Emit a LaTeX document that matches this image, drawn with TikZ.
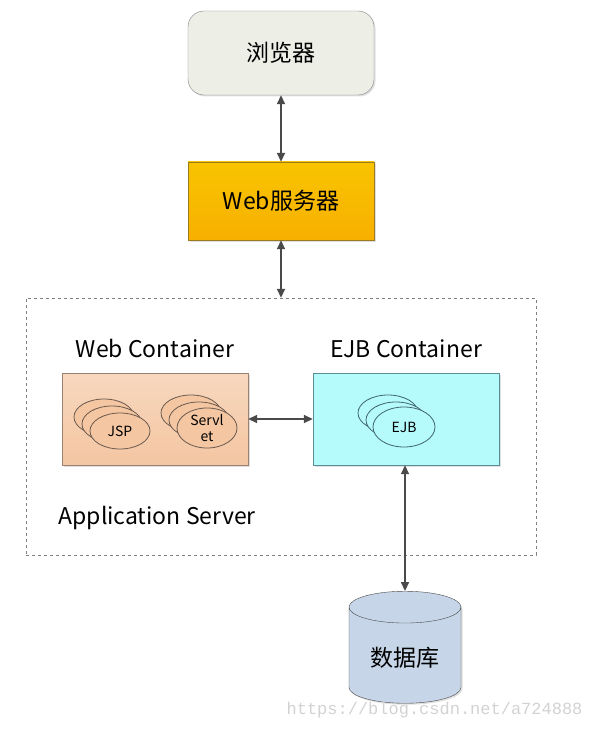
\documentclass[tikz,border=0pt]{standalone}
\usepackage{fontspec}
\setmainfont{Noto Sans CJK SC}
\newfontfamily\markfont{Liberation Mono}
\usetikzlibrary{positioning,shapes.geometric,arrows.meta,shadows}

\definecolor{browserfill}{HTML}{EDEFE7}
\definecolor{serverfill}{HTML}{F7B500}
\definecolor{serverline}{HTML}{9C7A1E}
\definecolor{webfill}{HTML}{F4C6A2}
\definecolor{webline}{HTML}{9A8272}
\definecolor{beanline}{HTML}{6B5A4E}
\definecolor{ejbfill}{HTML}{B5FBFC}
\definecolor{ejbline}{HTML}{5B8C98}
\definecolor{ejbbean}{HTML}{3F6470}
\definecolor{dbfill}{HTML}{C6D6E8}
\definecolor{arrowgray}{HTML}{4A4A4A}

\tikzset{
  boxshadow/.style={drop shadow={opacity=0.25,shadow xshift=1.5pt,shadow yshift=-1.5pt}},
  toplevel/.style={draw=gray,minimum width=186pt,minimum height=78pt,font=\fontsize{23}{26}\selectfont,boxshadow},
  container/.style={minimum width=186pt,minimum height=92pt,boxshadow},
  bean/.style={ellipse,draw=#1,line width=0.8pt,minimum width=60pt,minimum height=36pt,inner sep=0pt,font=\fontsize{14}{16}\selectfont},
  caption/.style={font=\fontsize{23}{26}\selectfont},
  link/.style={{Triangle[length=9pt,width=8pt]}-{Triangle[length=9pt,width=8pt]},draw=arrowgray,line width=1.6pt}
}

\begin{document}
\begin{tikzpicture}[x=1pt,y=-1pt]
\useasboundingbox (0,0) rectangle (596,730);

% Browser and web server
\node[toplevel,rounded corners=16pt,fill=browserfill,minimum height=84pt] (browser) at (281,53) {浏览器};
\node[toplevel,fill=serverfill,draw=serverline,top color=serverfill!80!yellow,bottom color=serverfill!90!orange] (webserver) at (281,201) {Web服务器};

% Application server frame
\node[draw=gray,dashed,minimum width=510pt,minimum height=257pt] (appserver) at (281,426.5) {};
\node[caption,anchor=west] (applabel) at (55,518) {Application Server};

% Construct both containers
\node[container,fill=webfill,draw=webline,top color=webfill!70!white,bottom color=webfill] (webc) at (155,419) {};
\node[container,fill=ejbfill,draw=ejbline] (ejbc) at (406,419) {};
\node[caption,above=11pt of webc] (weblabel) {Web Container};
\node[caption,above=11pt of ejbc] (ejblabel) {EJB Container};

% JSP stack
\node[bean=beanline,fill=webfill] (jspc) at (104,417) {};
\node[bean=beanline,fill=webfill] (jspb) at (112,424) {};
\node[bean=beanline,fill=webfill] (jsp) at (120,431) {JSP};

% Servlet stack
\node[bean=beanline,fill=webfill] (servc) at (191,413) {};
\node[bean=beanline,fill=webfill] (servb) at (199,420) {};
\node[bean=beanline,fill=webfill,minimum height=40pt,align=center] (servlet) at (207,428) {Servl\\et};

% EJB stack
\node[bean=ejbbean,fill=ejbfill] (ejbcc) at (388,413) {};
\node[bean=ejbbean,fill=ejbfill] (ejbb) at (396,420) {};
\node[bean=ejbbean,fill=ejbfill,minimum width=62pt,minimum height=40pt] (ejb) at (404,427) {EJB};

% Database
\node[cylinder,shape border rotate=90,aspect=0.42,draw=arrowgray,fill=dbfill,minimum width=112pt,minimum height=112pt,font=\fontsize{23}{26}\selectfont,boxshadow] (db) at (405,658) {数据库};

% Connections
\draw[link] (browser) -- (webserver);
\draw[link] (webserver) -- (appserver);
\draw[link] (webc) -- (ejbc);
\draw[link] (ejbc.south -| db.north) -- (db.north);

% Watermark
\node[anchor=east,text=gray!35,font=\markfont\fontsize{17}{20}\selectfont] (mark) at (586,710) {https://blog.csdn.net/a724888};
\end{tikzpicture}
\end{document}
